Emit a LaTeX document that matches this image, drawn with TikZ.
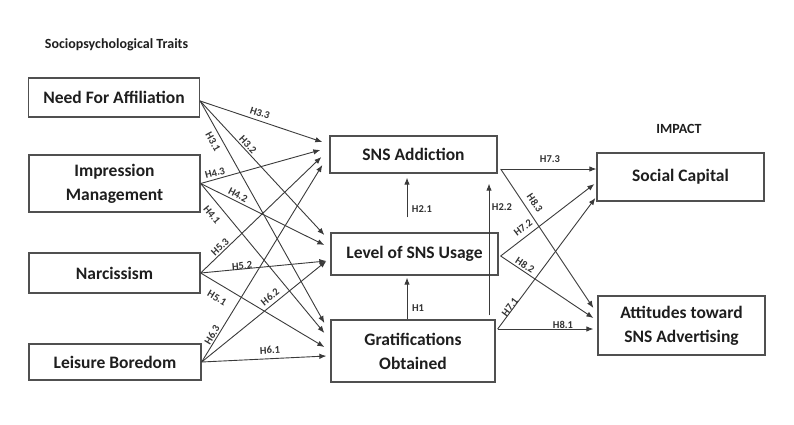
\documentclass[tikz,border=0pt]{standalone}
\usepackage{fontspec}
\setmainfont{Carlito}
\usetikzlibrary{arrows.meta}
\definecolor{txt}{HTML}{1E1E1E}
\definecolor{boxc}{HTML}{505050}
\definecolor{linec}{HTML}{3A3A3A}
\definecolor{lab}{HTML}{333333}
\begin{document}
\begin{tikzpicture}[x=1pt,y=-1pt,
  box/.style={draw=boxc, line width=1.3pt, inner sep=0pt, align=center,
    font=\bfseries\fontsize{17.5}{24}\selectfont, text=txt},
  conn/.style={draw=linec, line width=0.9pt, -{Latex[length=7pt,width=5.5pt]}},
  hl/.style={font=\bfseries\fontsize{10.5}{12}\selectfont, text=lab, inner sep=1pt},
  ttl/.style={font=\bfseries\fontsize{14}{16}\selectfont, text=txt}]
\useasboundingbox (0,0) rectangle (794,425);

% titles
\node[ttl] (t1) at (116.5,45) {Sociopsychological Traits};
\node[ttl] (t2) at (679,129) {IMPACT};

% left boxes
\node[box, minimum width=171pt, minimum height=39pt] (nfa) at (114,97.5) {Need For Affiliation};
\node[box, minimum width=171pt, minimum height=57pt] (im) at (114.5,183.5) {Impression\\Management};
\node[box, minimum width=171pt, minimum height=40pt] (narc) at (114.5,273) {Narcissism};
\node[box, minimum width=172pt, minimum height=36pt] (lb) at (115,362) {Leisure Boredom};

% middle boxes
\node[box, minimum width=167pt, minimum height=37pt] (add) at (413.5,154.5) {SNS Addiction};
\node[box, minimum width=167pt, minimum height=42pt] (lvl) at (414.5,254) {Level of SNS Usage};
\node[box, minimum width=164pt, minimum height=62pt] (grat) at (413,351) {Gratifications\\Obtained};

% right boxes
\node[box, minimum width=167pt, minimum height=48pt] (sc) at (680.5,177) {Social Capital};
\node[box, minimum width=167pt, minimum height=59pt] (att) at (681.5,325.5) {Attitudes toward\\SNS Advertising};

% left connectors
\draw[conn] ([yshift=-3.5pt]nfa.east) -- ([xshift=-7pt,yshift=12.5pt]add.west);
\draw[conn] ([yshift=-3.5pt]nfa.east) -- ([xshift=-6pt,yshift=19pt]lvl.west);
\draw[conn] ([yshift=-3.5pt]nfa.east) -- ([xshift=-6pt,yshift=28pt]grat.west);
\draw[conn] (im.east) -- ([xshift=-9pt,yshift=4.5pt]add.west);
\draw[conn] (im.east) -- ([xshift=-6pt,yshift=9pt]lvl.west);
\draw[conn] (im.east) -- ([xshift=-6pt,yshift=18pt]grat.west);
\draw[conn] (narc.east) -- ([xshift=-8pt,yshift=-2.5pt]add.west);
\draw[conn] (narc.east) -- ([xshift=-4pt,yshift=-7pt]lvl.west);
\draw[conn] (narc.east) -- ([xshift=-6pt,yshift=4pt]grat.west);
\draw[conn] (lb.east) -- ([xshift=-7pt,yshift=-10.5pt]add.west);
\draw[conn] (lb.east) -- ([xshift=-4pt,yshift=-7pt]lvl.west);
\draw[conn] (lb.east) -- ([xshift=-4pt,yshift=-5pt]grat.west);

% vertical connectors
\draw[conn] ([xshift=-7.5pt,yshift=15pt]lvl.north) -- ([xshift=-6.5pt,yshift=-4pt]add.south);
\draw[conn] ([xshift=-6pt]grat.north) -- ([xshift=-7.5pt,yshift=-2pt]lvl.south);
\draw[conn] ([xshift=76pt,yshift=4pt]grat.north) -- ([xshift=75.5pt,yshift=-10pt]add.south);

% right connectors
\draw[conn] ([xshift=3pt,yshift=-14.5pt]add.east) -- ([yshift=8pt]sc.west);
\draw[conn] ([xshift=3pt,yshift=-14.5pt]add.east) -- ([xshift=-4pt,yshift=17.5pt]att.west);
\draw[conn] ([xshift=2pt,yshift=-2pt]lvl.east) -- ([xshift=-2pt,yshift=-7pt]sc.west);
\draw[conn] ([xshift=2pt,yshift=-2pt]lvl.east) -- ([xshift=-4pt,yshift=7.5pt]att.west);
\draw[conn] ([xshift=2pt,yshift=22pt]grat.east) -- ([xshift=-1pt,yshift=-21pt]sc.west);
\draw[conn] ([xshift=2pt,yshift=22pt]grat.east) -- ([xshift=-4pt,yshift=-3.5pt]att.west);

% labels
\node[hl, rotate=-18] (l33) at (260,113) {H3.3};
\node[hl, rotate=-61] (l31) at (213,142) {H3.1};
\node[hl, rotate=-47] (l32) at (248,145) {H3.2};
\node[hl, rotate=15] (l43) at (215,173) {H4.3};
\node[hl, rotate=-27] (l42) at (238,195) {H4.2};
\node[hl, rotate=-50] (l41) at (212,215) {H4.1};
\node[hl, rotate=44] (l53) at (220,247) {H5.3};
\node[hl, rotate=5] (l52) at (242,266) {H5.2};
\node[hl, rotate=-31] (l51) at (217,298) {H5.1};
\node[hl, rotate=59] (l63) at (212,335) {H6.3};
\node[hl, rotate=39] (l62) at (270,297) {H6.2};
\node[hl, rotate=3] (l61) at (270,350) {H6.1};
\node[hl] (l21) at (422,209) {H2.1};
\node[hl] (l1) at (418,308) {H1};
\node[hl] (l22) at (502,207) {H2.2};
\node[hl] (l73) at (550,159) {H7.3};
\node[hl, rotate=-56] (l83) at (535,203) {H8.3};
\node[hl, rotate=37] (l72) at (523,228) {H7.2};
\node[hl, rotate=-33] (l82) at (525,265) {H8.2};
\node[hl, rotate=53] (l71) at (510,307) {H7.1};
\node[hl] (l81) at (563,325) {H8.1};
\end{tikzpicture}
\end{document}
